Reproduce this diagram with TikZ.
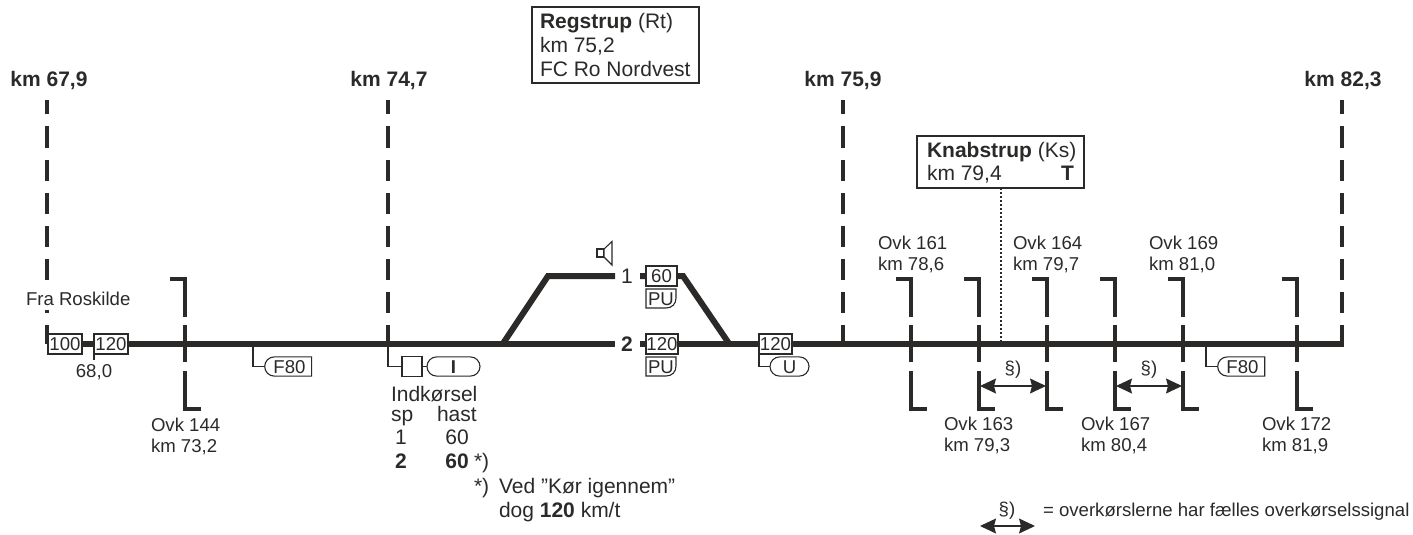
\documentclass[tikz,border=0pt]{standalone}
\usepackage{fontspec}
\setmainfont{Liberation Sans}
\usetikzlibrary{arrows.meta,shapes.misc}
\definecolor{ink}{HTML}{2B2A29}
\newcommand{\ns}{\fontsize{9.3pt}{11pt}\selectfont}
\newcommand{\nb}{\fontsize{10.5pt}{12pt}\selectfont}
\tikzset{
  x=0.5pt,y=-0.5pt,
  every node/.style={inner sep=0pt,outer sep=0pt,text=ink},
  track/.style={draw=ink,line width=3pt},
  hook/.style={draw=ink,line width=2pt},
  kmline/.style={draw=ink,line width=2pt,dash pattern=on 10.5pt off 6pt,dash phase=1pt},
  thinl/.style={draw=ink,line width=0.55pt},
  small/.style={font=\ns,anchor=base west},
  big/.style={font=\nb,anchor=base west},
  kmlab/.style={font=\nb\bfseries,anchor=base},
  sbox/.style={thinl,fill=white,font=\ns,minimum height=10pt,text height=6.6pt,text depth=0pt,anchor=center},
  capsule/.style={thinl,fill=white,rounded rectangle,font=\ns,minimum height=9.6pt,text height=6.6pt,text depth=0pt,anchor=center},
  halfcap/.style={capsule,rounded rectangle right arc=none},
  frame/.style={thinl,fill=white,line width=0.7pt},
  both/.style={thinl,{Stealth[length=8pt,width=7.5pt,inset=1pt]}-{Stealth[length=8pt,width=7.5pt,inset=1pt]}},
}
\begin{document}
\begin{tikzpicture}
\useasboundingbox (0,0) rectangle (1413,535);
% km lines
\foreach \n/\x/\t/\lx in {a/47/km 67{,}9/49,b/388/km 74{,}7/389,c/843/km 75{,}9/843,d/1342/km 82{,}3/1343}{
  \coordinate (km\n) at (\x,343.5);
  \coordinate (kt\n) at (\x,100);
  \draw[kmline] (km\n) -- (kt\n);
  \node[kmlab] (kl\n) at (\lx,87) {\t};
}
% main track
\coordinate (t0) at (47,343.5);
\coordinate (tl) at (615,343.5);
\coordinate (tm) at (640,343.5);
\coordinate (t1) at (1344,343.5);
\coordinate (sw1) at (503,343.5);
\coordinate (sw2) at (729,343.5);
\coordinate (u1) at (548,276);
\coordinate (ul) at (615,276);
\coordinate (um) at (640,276);
\coordinate (u2) at (683,276);
\draw[track] (t0) -- (tl);
\draw[track] (tm) -- (t1);
\draw[track,line join=miter] (sw1) -- (u1) -- (ul);
\draw[track,line join=miter] (um) -- (u2) -- (sw2);
% level crossings
\foreach \n/\x in {a/185,b/911,c/979,d/1047,e/1115,f/1183,g/1297}{
  \draw[hook] (\x-15,279) -- (\x,279) -- (\x,317);
  \draw[hook] (\x,325) -- (\x,362);
  \draw[hook] (\x,371) -- (\x,409) -- (\x+16,409);
}
% Fra Roskilde
\node[small,fill=white,text height=10pt,text depth=2.5pt] (fra) at (26,305) {Fra Roskilde};
% speed boards
\node[sbox,minimum width=17pt] (b100) at (65,344) {100};
\node[sbox,minimum width=17pt] (b120) at (111,344) {120};
\coordinate (tick) at (94,360);
\draw[thinl] (b120.south west) -- (tick);
\node[small,anchor=base] (k680) at (94,377) {68,0};
% F80 left
\coordinate (fa) at (253,343.5);
\node[halfcap,minimum width=23.5pt] (f1) at (289.5,366.5) {F80};
\draw[thinl] (fa) |- (f1.west);
% entry signal
\node[thinl,fill=white,minimum width=10pt,minimum height=9.6pt] (sq) at (412,366.5) {};
\node[capsule,minimum width=26.5pt,font=\ns\bfseries] (capi) at (453.5,366.5) {I};
\draw[thinl] (kmb) |- (sq.west);
\draw[thinl] (sq.east) -- (capi.west);
% entry text
\node[big] (ind) at (391,401) {Indkørsel};
\node[big] (sp) at (391,421) {sp};
\node[big] (hast) at (437,421) {hast};
\node[big,anchor=base] (s1) at (401,444) {1};
\node[big,anchor=base] (h1) at (457,444) {60};
\node[big,anchor=base,font=\nb\bfseries] (s2) at (401,468) {2};
\node[big,anchor=base,font=\nb\bfseries] (h2) at (457,468) {60};
\node[big] (st1) at (474,468) {*)};
\node[big] (st2) at (474,493) {*)};
\node[big] (ved) at (499,493) {Ved ”Kør igennem”};
\node[big] (dog) at (499,517) {dog \textbf{120} km/t};
% track labels
\node[big,anchor=base] (l1) at (627,283) {1};
\node[big,anchor=base,font=\nb\bfseries] (l2) at (627,351) {2};
% platform boards
\node[sbox,minimum width=15.5pt] (b60) at (661.5,276) {60};
\node[sbox,minimum width=16pt] (b121) at (662,344) {120};
\foreach \n/\t in {pa/289,pb/357}{
  \draw[thinl,fill=white] (646,\t) -- (676,\t) -- (676,\t+9) .. controls (676,\t+15) and (672,\t+19) .. (666,\t+19) -- (646,\t+19) -- cycle;
}
\node[font=\ns,anchor=base] (pu1) at (661,305) {PU};
\node[font=\ns,anchor=base] (pu2) at (661,373) {PU};
% speaker
\draw[thinl,fill=white] (597,249) rectangle (604,257);
\draw[thinl,fill=white] (604,249) -- (612,241.5) -- (612,265) -- (604,257) -- cycle;
% U
\node[sbox,minimum width=16.5pt] (b122) at (775.5,344) {120};
\node[capsule,minimum width=19.5pt] (capu) at (789.5,366.5) {U};
\draw[thinl] (b122.south west) |- (capu.west);
% F80 right
\coordinate (fb) at (1206,343.5);
\node[halfcap,minimum width=23.5pt] (f2) at (1242.5,366.5) {F80};
\draw[thinl] (fb) |- (f2.west);
% station boxes
\node[frame,minimum width=83.5pt,minimum height=38pt] (reg) at (615.5,45) {};
\node[big] (r1) at (540,29) {\textbf{Regstrup} (Rt)};
\node[big] (r2) at (540,53) {km 75,2};
\node[big] (r3) at (540,77) {FC Ro Nordvest};
\node[frame,minimum width=83.5pt,minimum height=26pt] (kn) at (1000.5,162) {};
\node[big] (k1) at (927,157) {\textbf{Knabstrup} (Ks)};
\node[big] (k2) at (927,180) {km 79,4};
\node[big,anchor=base east,font=\nb\bfseries] (k3) at (1074,180) {T};
\coordinate (kd) at (1001,343);
\draw[draw=ink,line width=1.4pt,dash pattern=on 1.05pt off 0.95pt] (kn.south -| kd) -- (kd);
% crossing labels
\foreach \n/\x/\y/\a/\b in {
 oa/151/431/Ovk 144/km 73{,}2,
 ob/878/249/Ovk 161/km 78{,}6,
 oc/944/430/Ovk 163/km 79{,}3,
 od/1013/249/Ovk 164/km 79{,}7,
 oe/1081/430/Ovk 167/km 80{,}4,
 of/1149/249/Ovk 169/km 81{,}0,
 og/1262/430/Ovk 172/km 81{,}9}{
  \node[small] (\n1) at (\x,\y) {\a};
  \node[small] (\n2) at (\x,\y+21) {\b};
}
% shared signal arrows
\coordinate (aa) at (980,386); \coordinate (ab) at (1046,386);
\coordinate (ac) at (1116,386); \coordinate (ad) at (1182,386);
\draw[both] (aa) -- (ab);
\draw[both] (ac) -- (ad);
\node[small,anchor=base] (p1) at (1013,374) {§)};
\node[small,anchor=base] (p2) at (1149,374) {§)};
% legend
\coordinate (la) at (980,526); \coordinate (lb) at (1035,526);
\draw[both] (la) -- (lb);
\node[small,anchor=base] (p3) at (1007,515) {§)};
\node[small] (leg) at (1043,516) {= overkørslerne har fælles overkørselssignal};
\end{tikzpicture}
\end{document}
